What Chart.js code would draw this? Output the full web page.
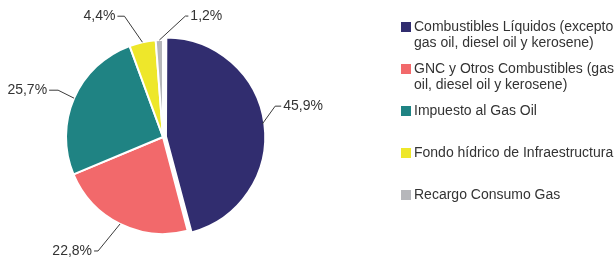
<!DOCTYPE html>
<html>
<head>
<meta charset="utf-8">
<script src="https://cdn.jsdelivr.net/npm/chart.js@4.4.1/dist/chart.umd.min.js"></script>
<style>
  body { margin: 0; background: #ffffff; }
  #wrap { width: 614px; height: 259px; position: relative; }
</style>
</head>
<body>
<div id="wrap"><canvas id="pieChart" width="614" height="259"></canvas></div>
<script>
// Data
const categories = [
    ['Combustibles Líquidos (excepto', 'gas oil, diesel oil y kerosene)'],
    ['GNC y Otros Combustibles (gas', 'oil, diesel oil y kerosene)'],
    ['Impuesto al Gas Oil'],
    ['Fondo hídrico de Infraestructura'],
    ['Recargo Consumo Gas']
];
const shares = [45.9, 22.8, 25.7, 4.4, 1.2];
const sliceColors = ['#312d6f', '#f2696b', '#1f8383', '#eee72a', '#b6b7bb'];

const textColor = '#333333';
const fontSpec = '14px "Liberation Sans", Arial, sans-serif';

// leader line shape for each slice: elbow offset from the arc edge, then horizontal run
const leaders = [
    { dx: 13, dy: -18, run: 6 },
    { dx: -22, dy: 27, run: -4 },
    { dx: -16, dy: -8, run: -9 },
    { dx: -18, dy: -26, run: -7 },
    { dx: 26, dy: -24, run: 3 }
];

// Labels outside the pie with leader lines
const outsideLabels = {
    id: 'outsideLabels',
    afterDatasetsDraw(chart) {
        const ctx = chart.ctx;
        const meta = chart.getDatasetMeta(0);
        ctx.save();
        ctx.font = fontSpec;
        ctx.fillStyle = textColor;
        ctx.strokeStyle = '#3a3a3a';
        ctx.lineWidth = 1;
        ctx.textBaseline = 'middle';
        meta.data.forEach((arc, i) => {
            const p = arc.getProps(['x', 'y', 'startAngle', 'endAngle', 'outerRadius'], true);
            const mid = (p.startAngle + p.endAngle) / 2;
            const off = (arc.options.offset || 0) / 4;
            const cx = p.x + Math.cos(mid) * off;
            const cy = p.y + Math.sin(mid) * off;
            const ax = cx + Math.cos(mid) * p.outerRadius;
            const ay = cy + Math.sin(mid) * p.outerRadius;
            const l = leaders[i];
            const ex = ax + l.dx, ey = ay + l.dy;
            const tx = ex + l.run;
            ctx.beginPath();
            ctx.moveTo(ax, ay);
            ctx.lineTo(ex, ey);
            ctx.lineTo(tx, ey);
            ctx.stroke();
            const txt = shares[i].toFixed(1).replace('.', ',') + '%';
            ctx.textAlign = l.run >= 0 ? 'left' : 'right';
            ctx.fillText(txt, tx + (l.run >= 0 ? 2 : -2), ey);
        });
        ctx.restore();
    }
};

// Legend drawn on the right side
const sideLegend = {
    id: 'sideLegend',
    afterDraw(chart) {
        const ctx = chart.ctx;
        ctx.save();
        ctx.font = fontSpec;
        ctx.textBaseline = 'middle';
        ctx.textAlign = 'left';
        categories.forEach((lines, i) => {
            const y = 27 + i * 42;
            ctx.fillStyle = sliceColors[i];
            ctx.fillRect(401, y - 5, 10, 10);
            ctx.fillStyle = textColor;
            lines.forEach((line, j) => {
                ctx.fillText(line, 414, y + j * 16);
            });
        });
        ctx.restore();
    }
};

const ctx = document.getElementById('pieChart').getContext('2d');
const pieChart = new Chart(ctx, {
    type: 'pie',
    data: {
        labels: categories,
        datasets: [{
            data: shares,
            backgroundColor: sliceColors,
            borderColor: '#ffffff',
            borderWidth: 2,
            offset: [12, 0, 0, 0, 0],
            hoverOffset: 0
        }]
    },
    options: {
        responsive: false,
        animation: false,
        layout: {
            padding: { left: 59, right: 347, top: 33, bottom: 18 }
        },
        plugins: {
            legend: { display: false },
            tooltip: { enabled: false }
        }
    },
    plugins: [outsideLabels, sideLegend]
});
</script>
</body>
</html>
